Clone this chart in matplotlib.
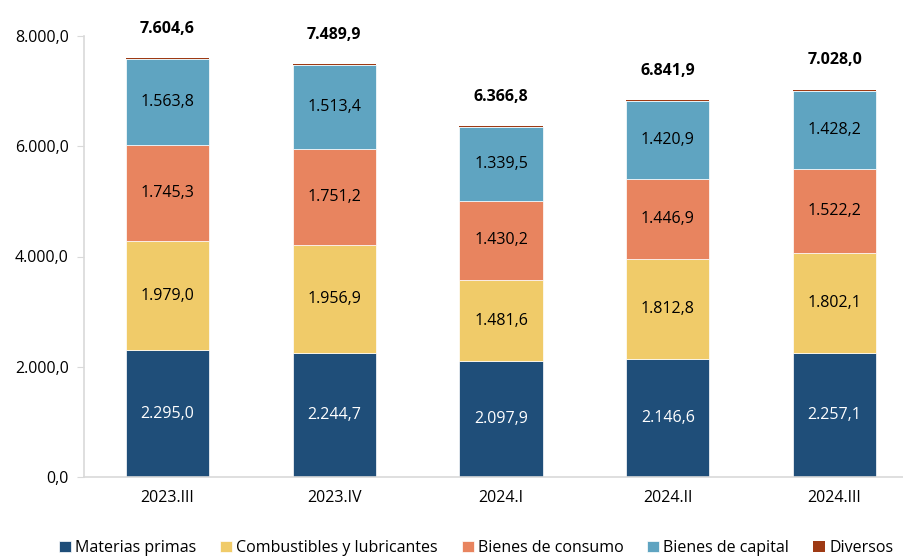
import matplotlib
matplotlib.use("Agg")
import matplotlib.pyplot as plt
import numpy as np

periods = ["2023.III", "2023.IV", "2024.I", "2024.II", "2024.III"]
materias_primas = [2295.0, 2244.7, 2097.9, 2146.6, 2257.1]
combustibles = [1979.0, 1956.9, 1481.6, 1812.8, 1802.1]
bienes_consumo = [1745.3, 1751.2, 1430.2, 1446.9, 1522.2]
bienes_capital = [1563.8, 1513.4, 1339.5, 1420.9, 1428.2]
diversos = [21.5, 23.7, 17.6, 14.7, 18.4]
totals = [7604.6, 7489.9, 6366.8, 6841.9, 7028.0]

series = [
    ("Materias primas", materias_primas, "#1F4E79", "white"),
    ("Combustibles y lubricantes", combustibles, "#F0CB69", "black"),
    ("Bienes de consumo", bienes_consumo, "#E8845F", "black"),
    ("Bienes de capital", bienes_capital, "#5FA4C1", "black"),
    ("Diversos", diversos, "#9E3A14", None),
]

plt.rcParams["font.family"] = ["Open Sans", "DejaVu Sans"]


def fmt(v):
    s = f"{v:,.1f}"
    return s.replace(",", "X").replace(".", ",").replace("X", ".")


fig = plt.figure(figsize=(9.04, 5.59), dpi=100)
ax = fig.add_axes([84 / 904, 82 / 559, 834 / 904, 441 / 559])

x = np.arange(len(periods))
bottom = np.zeros(len(periods))
handles = []
for name, vals, color, tcolor in series:
    vals = np.array(vals)
    lw = 0.5 if tcolor is not None else 0
    h = ax.bar(x, vals, 0.5, bottom=bottom, color=color, label=name,
               edgecolor="white", linewidth=lw)
    handles.append(h)
    if tcolor is not None:
        for xi, b, v in zip(x, bottom, vals):
            ax.text(xi, b + v / 2, fmt(v), ha="center", va="center",
                    color=tcolor, fontsize=11.5)
    bottom += vals

for xi, t in zip(x, totals):
    ax.annotate(fmt(t), (xi, t), xytext=(0, 21), textcoords="offset points",
                ha="center", va="center", fontsize=11.5, fontweight="bold")

ax.set_xlim(-0.5, len(periods) - 0.5)
ax.set_ylim(0, 8000)
ax.set_yticks([0, 2000, 4000, 6000, 8000])
ax.set_yticklabels([fmt(v) for v in [0, 2000, 4000, 6000, 8000]], fontsize=11.5)
ax.set_xticks(x)
ax.set_xticklabels(periods, fontsize=11.5)

for s in ["top", "right"]:
    ax.spines[s].set_visible(False)
for s in ["left", "bottom"]:
    ax.spines[s].set_color("#D9D9D9")
    ax.spines[s].set_linewidth(1.2)
ax.tick_params(axis="y", length=5, color="#D9D9D9", pad=6)
ax.tick_params(axis="x", length=0, pad=9)

fig.legend(handles=handles, loc="center", bbox_to_anchor=(476 / 904, 1 - 548 / 559),
           ncol=5, frameon=False, fontsize=11.5, handlelength=0.75, handleheight=0.75,
           handletextpad=0.25, columnspacing=1.5)

fig.savefig("out.png", dpi=100)
